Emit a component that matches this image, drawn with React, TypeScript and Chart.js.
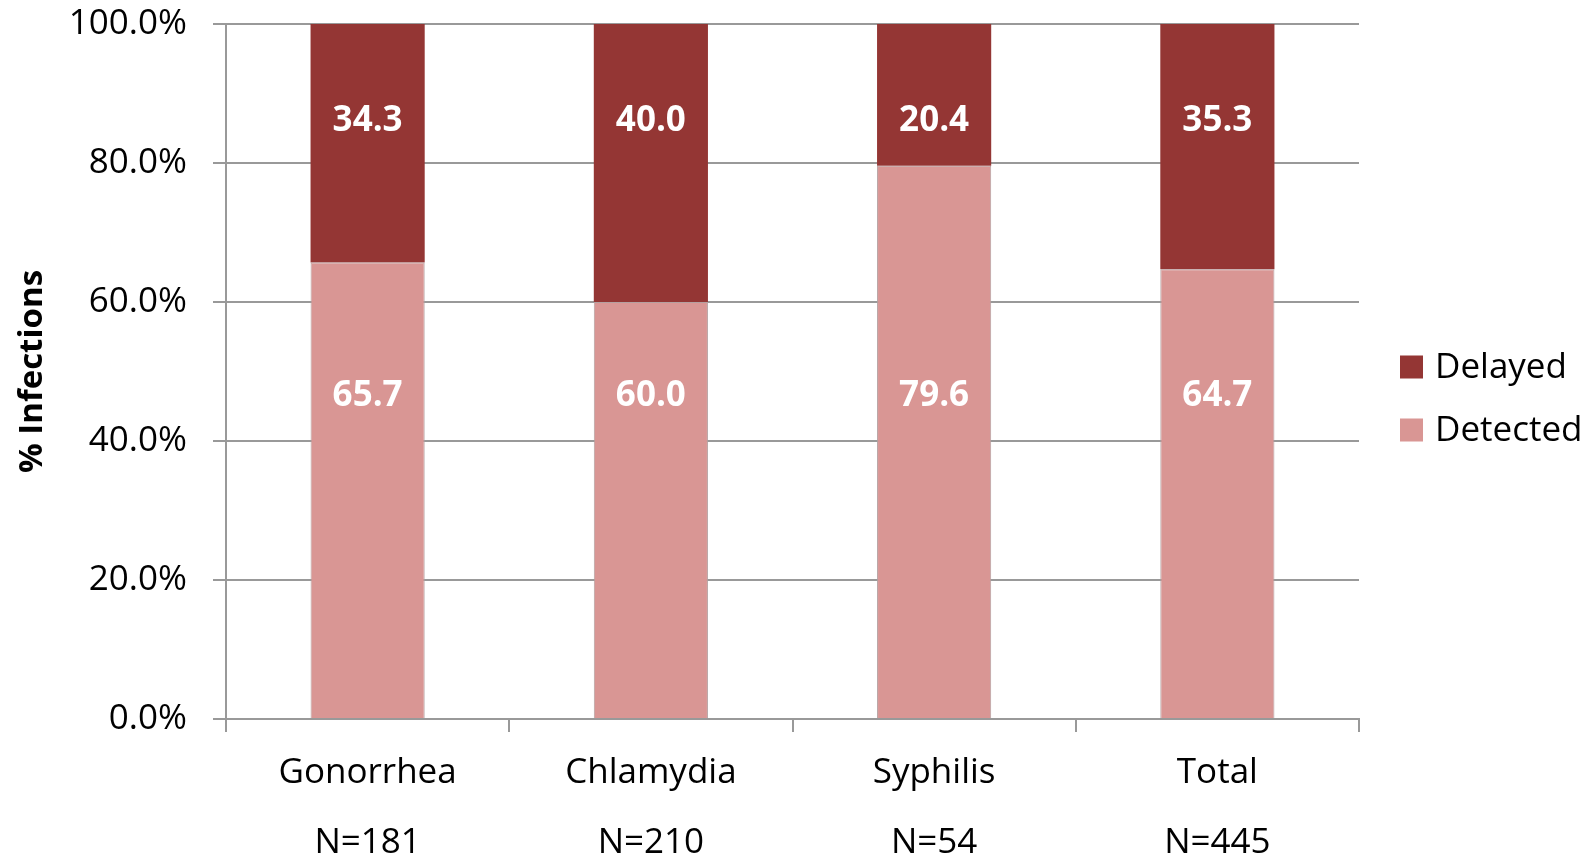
import React, { useEffect, useRef } from "react";
import { Chart, registerables } from "chart.js";

Chart.register(...registerables);

const categories: string[][] = [
  ["Gonorrhea", "N=181"],
  ["Chlamydia", "N=210"],
  ["Syphilis", "N=54"],
  ["Total", "N=445"],
];
const detected: number[] = [65.7, 60.0, 79.6, 64.7];
const delayed: number[] = [34.3, 40.0, 20.4, 35.3];
const yTickValues: number[] = [0, 20, 40, 60, 80, 100];

const DARK = "#943634";
const LIGHT = "#D99694";
const GRID = "#999999";
const FONT = "'Open Sans', 'Liberation Sans', sans-serif";

// where the segment labels sit on the value axis (as in the original, fixed height per series)
const LABEL_LEVEL: Record<string, number> = { Detected: 46.5, Delayed: 86.0 };

const segmentLabels = {
  id: "segmentLabels",
  afterDatasetsDraw(chart: any) {
    const { ctx } = chart;
    const yScale = chart.scales.y;
    ctx.save();
    ctx.font = `bold 35px ${FONT}`;
    ctx.fillStyle = "#ffffff";
    ctx.textAlign = "center";
    ctx.textBaseline = "middle";
    chart.data.datasets.forEach((ds: any, i: number) => {
      const meta = chart.getDatasetMeta(i);
      const y = yScale.getPixelForValue(LABEL_LEVEL[ds.label]);
      meta.data.forEach((bar: any, j: number) => {
        ctx.fillText(Number(ds.data[j]).toFixed(1), bar.x, y);
      });
    });
    ctx.restore();
  },
};

const sideLegend = {
  id: "sideLegend",
  afterDraw(chart: any) {
    const { ctx, chartArea } = chart;
    const items = [...chart.data.datasets].reverse();
    const boxX = chartArea.right + 41;
    const startY = 367;
    const gap = 63;
    ctx.save();
    ctx.font = `35px ${FONT}`;
    ctx.textAlign = "left";
    ctx.textBaseline = "middle";
    items.forEach((ds: any, k: number) => {
      const cy = startY + k * gap;
      ctx.fillStyle = ds.backgroundColor;
      ctx.fillRect(boxX, cy - 11.5, 23, 23);
      ctx.fillStyle = "#000000";
      ctx.fillText(ds.label, boxX + 35, cy + 1);
    });
    ctx.restore();
  },
};

export default function App() {
  const ref = useRef<HTMLCanvasElement | null>(null);

  useEffect(() => {
    if (!ref.current) return;
    const chart = new Chart(ref.current, {
      type: "bar",
      data: {
        labels: categories,
        datasets: [
          {
            label: "Detected",
            data: detected,
            backgroundColor: LIGHT,
            borderColor: "#b5a0a0",
            borderWidth: 1,
            barPercentage: 0.403,
            categoryPercentage: 1,
          },
          {
            label: "Delayed",
            data: delayed,
            backgroundColor: DARK,
            borderWidth: 0,
            barPercentage: 0.403,
            categoryPercentage: 1,
          },
        ],
      },
      options: {
        animation: false,
        responsive: false,
        maintainAspectRatio: false,
        layout: { padding: { top: 24, right: 237, left: 0, bottom: 0 } },
        plugins: {
          legend: { display: false },
          tooltip: { enabled: false },
          title: { display: false },
        },
        scales: {
          x: {
            stacked: true,
            afterFit: (s: any) => {
              s.height = 140;
              s.paddingLeft = 0;
              s.paddingRight = 0;
            },
            grid: {
              offset: true,
              drawOnChartArea: false,
              drawTicks: true,
              tickLength: 13,
              color: GRID,
              lineWidth: 2,
            },
            border: { display: true, color: GRID, width: 2 },
            ticks: {
              color: "#000000",
              padding: 6,
              font: { family: FONT, size: 35, lineHeight: 2.0 },
              maxRotation: 0,
              autoSkip: false,
            },
          },
          y: {
            stacked: true,
            min: 0,
            max: 100,
            afterFit: (s: any) => {
              s.width = 226;
              s.paddingTop = 0;
              s.paddingBottom = 0;
            },
            afterBuildTicks: (s: any) => {
              s.ticks = yTickValues.map((v) => ({ value: v }));
            },
            grid: {
              color: GRID,
              lineWidth: 2,
              tickLength: 13,
              drawTicks: true,
            },
            border: { display: true, color: GRID, width: 2 },
            ticks: {
              color: "#000000",
              padding: 26,
              font: { family: FONT, size: 35 },
              callback: (v: any) => Number(v).toFixed(1) + "%",
            },
            title: {
              display: true,
              text: "% Infections",
              color: "#000000",
              font: { family: FONT, size: 33, weight: "bold" },
              padding: { top: 13, bottom: 0 },
            },
          },
        },
      },
      plugins: [segmentLabels, sideLegend],
    });
    return () => chart.destroy();
  }, []);

  return (
    <div style={{ position: "absolute", left: 0, top: 0, width: 1596, height: 859, background: "#ffffff" }}>
      <canvas ref={ref} width={1596} height={859} style={{ display: "block", width: 1596, height: 859 }} />
    </div>
  );
}
